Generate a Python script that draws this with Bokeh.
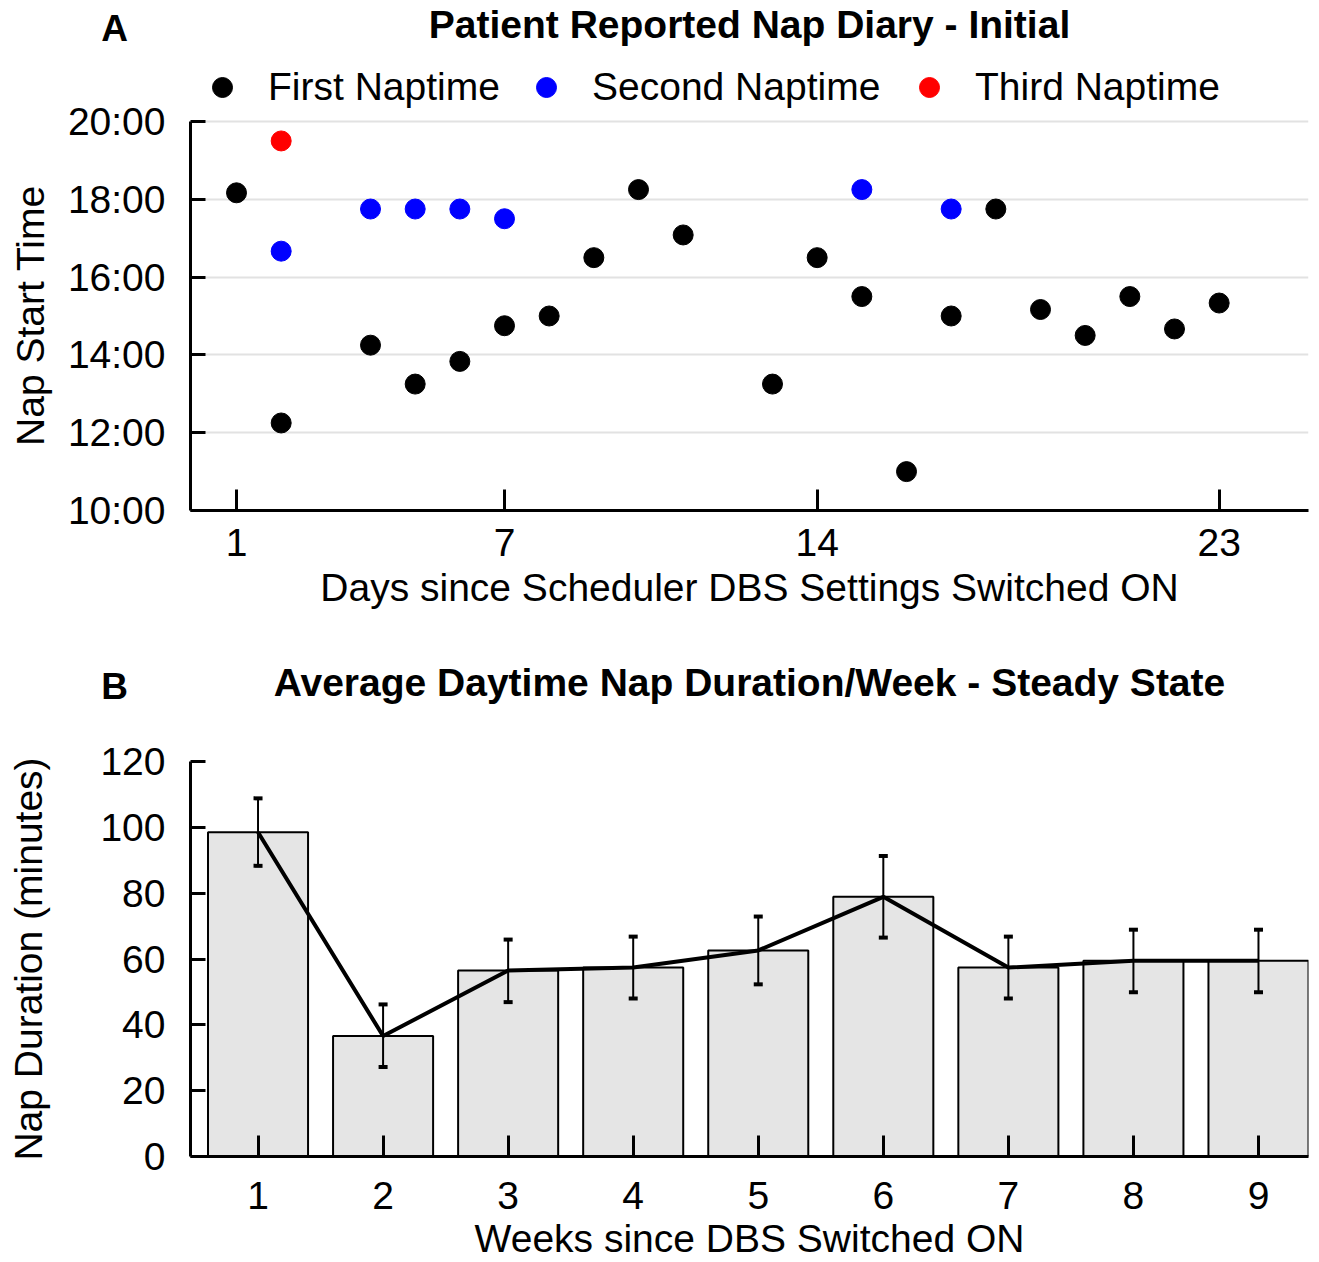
import math
from bokeh.plotting import figure
from bokeh.layouts import column, row
from bokeh.models import (ColumnDataSource, Range1d, FixedTicker, Label, Legend,
                          LegendItem, Whisker, TeeHead)
from bokeh.embed import file_html
from bokeh.resources import INLINE

FONT = "Liberation Sans"

# ---------------- Panel A data ----------------
days_first = [1, 2, 4, 5, 6, 7, 8, 9, 10, 11, 13, 14, 15, 16, 17, 18, 19, 20, 21, 22, 23]
time_first = ["18:10", "12:15", "14:15", "13:15", "13:50", "14:45", "15:00", "16:30",
              "18:15", "17:05", "13:15", "16:30", "15:30", "11:00", "15:00", "17:45",
              "15:10", "14:30", "15:30", "14:40", "15:20"]
days_second = [2, 4, 5, 6, 7, 15, 17]
time_second = ["16:40", "17:45", "17:45", "17:45", "17:30", "18:15", "17:45"]
days_third = [2]
time_third = ["19:30"]
day_ticks = [1, 7, 14, 23]
hour_ticks = [10, 12, 14, 16, 18, 20]

# ---------------- Panel B data ----------------
weeks = [1, 2, 3, 4, 5, 6, 7, 8, 9]
mean_minutes = [98.5, 36.6, 56.5, 57.4, 62.6, 78.9, 57.4, 59.5, 59.5]
upper_minutes = [108.8, 46.2, 65.9, 66.8, 72.9, 91.3, 66.8, 68.9, 68.9]
lower_minutes = [88.3, 27.2, 46.9, 48.0, 52.3, 66.5, 48.0, 49.9, 49.9]
minute_ticks = [0, 20, 40, 60, 80, 100, 120]


def to_hours(s):
    h, m = s.split(":")
    return int(h) + int(m) / 60.0


def style_axes(p, x_tick_in, y_tick_in):
    for ax in (p.xaxis[0], p.yaxis[0]):
        ax.axis_line_width = 3
        ax.axis_line_color = "black"
        ax.major_tick_line_width = 3
        ax.major_tick_line_color = "black"
        ax.major_tick_out = 0
        ax.minor_tick_line_color = None
        ax.major_label_text_font = FONT
        ax.major_label_text_font_size = "39px"
        ax.major_label_text_color = "black"
        ax.axis_label_text_font = FONT
        ax.axis_label_text_font_size = "39px"
        ax.axis_label_text_font_style = "normal"
        ax.axis_label_text_color = "black"
    p.xaxis[0].major_tick_in = x_tick_in
    p.yaxis[0].major_tick_in = y_tick_in
    p.yaxis[0].major_label_standoff = 25


def blank(width, height):
    b = figure(width=width, height=height, x_range=Range1d(0, width), y_range=Range1d(0, height),
               output_backend="svg", toolbar_location=None, x_axis_location=None,
               y_axis_location=None, min_border=0)
    b.frame_align = False
    b.outline_line_color = None
    b.xgrid.visible = False
    b.ygrid.visible = False
    return b


def header(height, letter, letter_y, title, title_y):
    h = blank(1319, height)
    h.add_layout(Label(x=114, y=letter_y, text=letter, text_align="center",
                       text_baseline="middle", text_font=FONT, text_font_size="37px",
                       text_font_style="bold", text_color="black"))
    h.add_layout(Label(x=749, y=title_y, text=title, text_align="center",
                       text_baseline="middle", text_font=FONT, text_font_size="39px",
                       text_font_style="bold", text_color="black"))
    return h


# ---------------- Panel A ----------------
h1 = header(50, "A", 22, "Patient Reported Nap Diary - Initial", 26)

# side strip holding the y-axis title, centred on the 10:00-20:00 axis
left1 = blank(60, 580)
left1.add_layout(Label(x=30, y=315, text="Nap Start Time", angle=math.pi / 2,
                       text_align="center", text_baseline="middle", text_font=FONT,
                       text_font_size="39px", text_color="black"))

p1 = figure(width=1259, height=580, x_range=Range1d(-0.03, 25), y_range=Range1d(10, 21.825),
            output_backend="svg", toolbar_location=None,
            min_border_left=130, min_border_right=11, min_border_top=0, min_border_bottom=120,
            x_axis_label="Days since Scheduler DBS Settings Switched ON")
p1.outline_line_color = None
p1.xgrid.visible = False
p1.ygrid.grid_line_color = "#e2e2e2"
p1.ygrid.grid_line_width = 2
p1.xaxis.ticker = FixedTicker(ticks=day_ticks)
p1.yaxis.ticker = FixedTicker(ticks=hour_ticks)
p1.yaxis.bounds = (10, 20)
p1.yaxis.major_label_overrides = {h: "%d:00" % h for h in hour_ticks}
style_axes(p1, 21, 15)
p1.xaxis.major_label_standoff = 18
p1.xaxis.axis_label_standoff = 7

r_first = p1.scatter(days_first, [to_hours(t) for t in time_first], size=20, color="black")
r_second = p1.scatter(days_second, [to_hours(t) for t in time_second], size=20, color="#0000ff")
r_third = p1.scatter(days_third, [to_hours(t) for t in time_third], size=20, color="#ff0000")

legend_specs = [("First Naptime", r_first, 7), ("Second Naptime", r_second, 331),
                ("Third Naptime", r_third, 714)]
for name, rend, lx in legend_specs:
    lg = Legend(items=[LegendItem(label=name, renderers=[rend])], location=(lx, 398),
                glyph_width=50, glyph_height=50, label_standoff=21, padding=0, margin=0,
                border_line_color=None, background_fill_alpha=0,
                label_text_font=FONT, label_text_font_size="39px", label_text_color="black")
    p1.add_layout(lg, "center")

# ---------------- Panel B ----------------
h2 = header(90, "B", 34, "Average Daytime Nap Duration/Week - Steady State", 38)

src = ColumnDataSource(dict(week=weeks, mean=mean_minutes, upper=upper_minutes, lower=lower_minutes))

p2 = figure(width=1319, height=542, x_range=Range1d(0.46, 9.4), y_range=Range1d(0, 120),
            output_backend="svg", toolbar_location=None,
            min_border_left=190, min_border_right=11, min_border_top=41, min_border_bottom=104,
            x_axis_label="Weeks since DBS Switched ON",
            y_axis_label="Nap Duration (minutes)")
p2.outline_line_color = None
p2.xgrid.visible = False
p2.ygrid.visible = False
p2.xaxis.ticker = FixedTicker(ticks=weeks)
p2.yaxis.ticker = FixedTicker(ticks=minute_ticks)
style_axes(p2, 21, 15)
p2.yaxis.axis_label_standoff = 47
p2.xaxis.major_label_standoff = 25
p2.xaxis.axis_label_standoff = 5

p2.vbar(x="week", top="mean", width=0.8, source=src, fill_color="#e5e5e5",
        line_color="black", line_width=2)
p2.line(x="week", y="mean", source=src, line_width=4, line_color="black")
p2.add_layout(Whisker(base="week", upper="upper", lower="lower", source=src,
                      line_width=2, line_color="black", level="annotation",
                      upper_head=TeeHead(size=9, line_width=4, line_color="black"),
                      lower_head=TeeHead(size=9, line_width=4, line_color="black")))

layout = column(h1, row(left1, p1, spacing=0), h2, p2, spacing=0)
open("out.html", "w").write(file_html(layout, INLINE))
